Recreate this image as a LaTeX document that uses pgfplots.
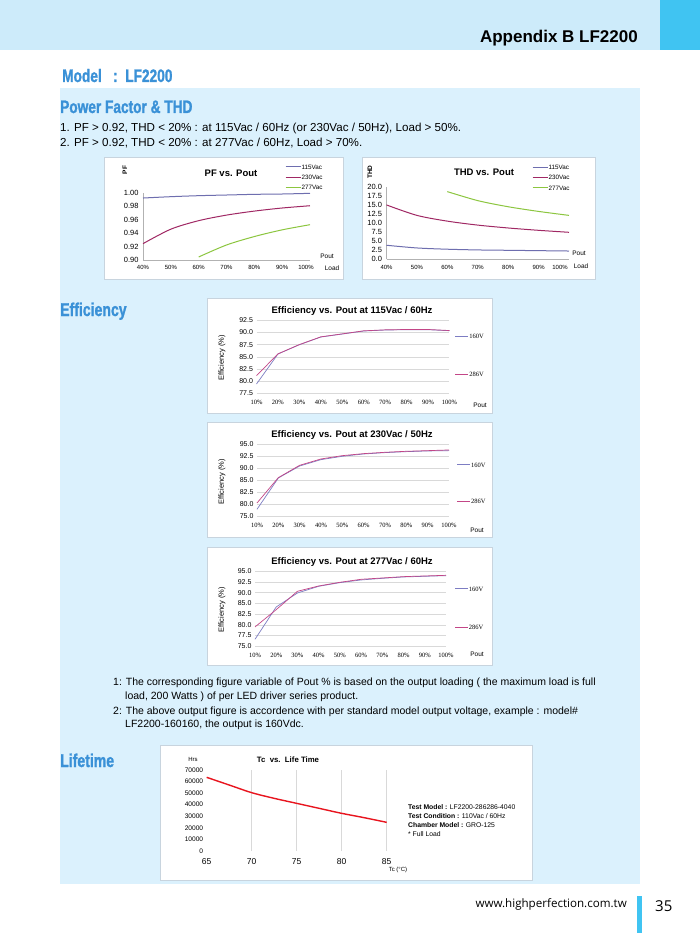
\documentclass[border=0pt]{standalone}
\usepackage{fontspec}
\setmainfont{Liberation Sans}
\newfontfamily\serifz{Liberation Serif}
\newfontfamily\condfont[FakeStretch=0.76,FakeBold=1.2]{Liberation Sans}
\newfontfamily\footfont{Open Sans}
\usepackage{pgfplots}
\pgfplotsset{compat=1.18}
\definecolor{hdrband}{RGB}{205,235,250}
\definecolor{hdrblock}{RGB}{64,196,242}
\definecolor{panel}{RGB}{219,241,253}
\definecolor{headblue}{RGB}{58,145,215}
\definecolor{cA}{RGB}{110,110,175}
\definecolor{cB}{RGB}{160,40,100}
\definecolor{cC}{RGB}{140,198,63}
\definecolor{eA}{RGB}{125,125,195}
\definecolor{eB}{RGB}{195,70,135}
\definecolor{gridc}{RGB}{217,217,217}
\definecolor{boxline}{RGB}{200,212,222}
\definecolor{lifered}{RGB}{232,20,30}

\pgfplotsset{
  chartbase/.style={scale only axis, clip=false, anchor=south west,
    /pgf/number format/assume math mode=true,
    tick style={draw=none}, legend cell align=left},
  pfthd/.style={chartbase, axis lines*=left, axis line style={draw=black!30, line width=0.4pt},
    xmin=40, xmax=100, xtick={40,50,60,70,80,90},
    xticklabels={40\%,50\%,60\%,70\%,80\%,90\%},
    extra x ticks={100}, extra x tick labels={100\%},
    xticklabel style={font=\fontsize{6}{6}\selectfont, yshift=-2pt},
    yticklabel style={font=\fontsize{7.5}{7.5}\selectfont, xshift=-1pt},
    legend style={draw=none, fill=none, font=\fontsize{6.3}{6.3}\selectfont, inner sep=0pt,
      row sep=4.5pt, nodes={inner sep=0.5pt, text height=4.6pt, text depth=0.2pt}},
    legend image code/.code={\draw[#1] (0pt,0pt) -- (15pt,0pt);}},
  eff/.style={chartbase, axis line style={draw=none},
    xmin=10, xmax=100, xtick={10,20,30,40,50,60,70,80,90,100},
    xticklabels={10\%,20\%,30\%,40\%,50\%,60\%,70\%,80\%,90\%,100\%},
    xticklabel style={font=\serifz\fontsize{6.5}{6.5}\selectfont, yshift=-3pt},
    yticklabel style={font=\fontsize{7}{7}\selectfont, /pgf/number format/.cd, fixed, fixed zerofill, precision=1},
    ymajorgrids, grid style={gridc, line width=0.5pt},
    legend style={draw=none, fill=none, font=\serifz\fontsize{6.5}{6.5}\selectfont, inner sep=0pt,
      nodes={inner sep=0.5pt, text height=4.6pt, text depth=0.2pt}},
    legend image code/.code={\draw[#1] (0pt,0pt) -- (13pt,0pt);}},
}

\begin{document}
\begin{tikzpicture}
\begin{scope}[x=1pt,y=-1pt]
\useasboundingbox (0,0) rectangle (700,933);
\fill[white] (0,0) rectangle (700,933);
\fill[hdrband] (0,0) rectangle (660,50);
\fill[hdrblock] (660,0) rectangle (700,50);
\node[anchor=base east, inner sep=0, font=\fontsize{17}{17}\selectfont\bfseries] at (638,43) {Appendix B LF2200};
\node[anchor=base west, inner sep=0, text=headblue, font=\condfont\bfseries\fontsize{18}{18}\selectfont] at (62,82) {Model\ \ \ :\ \ LF2200};
\fill[panel] (60,88) rectangle (640,884);
\node[anchor=base west, inner sep=0, text=headblue, font=\condfont\bfseries\fontsize{18}{18}\selectfont] at (60,113) {Power Factor \& THD};
\node[anchor=base west, inner sep=0, font=\fontsize{11.6}{11.6}\selectfont] at (60,132) {1. PF > 0.92, THD < 20\% : at 115Vac / 60Hz (or 230Vac / 50Hz), Load > 50\%.};
\node[anchor=base west, inner sep=0, font=\fontsize{11.6}{11.6}\selectfont] at (60,147) {2. PF > 0.92, THD < 20\% : at 277Vac / 60Hz, Load > 70\%.};
% chart boxes
\filldraw[fill=white, draw=boxline, line width=0.5pt] (104,157) rectangle (343,279);
\filldraw[fill=white, draw=boxline, line width=0.5pt] (362,157) rectangle (595,279);
\node[anchor=base west, inner sep=0, text=headblue, font=\condfont\bfseries\fontsize{18.5}{18.5}\selectfont] at (60,316) {Efficiency};
\filldraw[fill=white, draw=boxline, line width=0.5pt] (207,298) rectangle (492,413);
\filldraw[fill=white, draw=boxline, line width=0.5pt] (207,422) rectangle (492,537);
\filldraw[fill=white, draw=boxline, line width=0.5pt] (207,547) rectangle (492,665);
% notes
\begin{scope}[every node/.style={anchor=base west, inner sep=0, font=\fontsize{10.5}{10.5}\selectfont}]
\node at (113,685) {1: The corresponding figure variable of Pout \% is based on the output loading ( the maximum load is full};
\node at (125,699) {load, 200 Watts ) of per LED driver series product.};
\node at (113,714) {2: The above output figure is accordence with per standard model output voltage, example : model\#};
\node at (125,727) {LF2200-160160, the output is 160Vdc.};
\end{scope}
\node[anchor=base west, inner sep=0, text=headblue, font=\condfont\bfseries\fontsize{18.5}{18.5}\selectfont] at (60,767) {Lifetime};
\filldraw[fill=white, draw=boxline, line width=0.5pt] (160,745) rectangle (532,880);
% footer
\node[anchor=base east, inner sep=0, font=\footfont\fontsize{11.6}{11.6}\selectfont] at (627,907) {www.highperfection.com.tw};
\fill[hdrblock] (637,896) rectangle (642,933);
\node[anchor=base west, inner sep=0, font=\footfont\fontsize{15}{15}\selectfont] at (655,911) {35};
% chart texts
\node[font=\bfseries\fontsize{9.5}{9.5}\selectfont] at (231,173) {PF vs. Pout};
\node[rotate=90, font=\bfseries\fontsize{6.5}{6.5}\selectfont] at (125,170) {PF};
\node[font=\fontsize{6.5}{6.5}\selectfont] at (327,256) {Pout};
\node[font=\fontsize{6.5}{6.5}\selectfont] at (332,268) {Load};
\node[font=\bfseries\fontsize{9.5}{9.5}\selectfont] at (484,172) {THD vs. Pout};
\node[rotate=90, font=\bfseries\fontsize{6.5}{6.5}\selectfont] at (370,172) {THD};
\node[font=\fontsize{6.5}{6.5}\selectfont] at (579,253) {Pout};
\node[font=\fontsize{6.5}{6.5}\selectfont] at (581,266) {Load};
\node[font=\bfseries\fontsize{9.5}{9.5}\selectfont] at (352,311) {Efficiency vs. Pout at 115Vac / 60Hz};
\node[font=\bfseries\fontsize{9.5}{9.5}\selectfont] at (352,435) {Efficiency vs. Pout at 230Vac / 50Hz};
\node[font=\bfseries\fontsize{9.5}{9.5}\selectfont] at (352,562) {Efficiency vs. Pout at 277Vac / 60Hz};
\node[rotate=90, font=\fontsize{7.5}{7.5}\selectfont] at (222,358) {Efficiency (\%)};
\node[rotate=90, font=\fontsize{7.5}{7.5}\selectfont] at (222,482) {Efficiency (\%)};
\node[rotate=90, font=\fontsize{7.5}{7.5}\selectfont] at (222,610) {Efficiency (\%)};
\node[font=\fontsize{6.5}{6.5}\selectfont] at (480,405) {Pout};
\node[font=\fontsize{6.5}{6.5}\selectfont] at (477,530) {Pout};
\node[font=\fontsize{6.5}{6.5}\selectfont] at (477,654) {Pout};
\node[font=\fontsize{6}{6}\selectfont] at (193,759) {Hrs};
\node[font=\bfseries\fontsize{7.8}{7.8}\selectfont] at (288,760) {Tc\ \ vs.\ \ Life Time};
\node[font=\fontsize{6}{6}\selectfont] at (398,870) {Tc (°C)};
\begin{scope}[every node/.style={anchor=base west, inner sep=0, font=\fontsize{6.8}{6.8}\selectfont}]
\node at (408,809) {\textbf{Test Model :} LF2200-286286-4040};
\node at (408,818) {\textbf{Test Condition :} 110Vac / 60Hz};
\node at (408,827) {\textbf{Chamber Model :} GRO-125};
\node at (408,836) {* Full Load};
\end{scope}
\end{scope}

% PF
\begin{axis}[pfthd, at={(143pt,-260pt)}, width=167pt, height=67pt,
  extra x tick style={xticklabel style={xshift=-4pt}},
  ymin=0.90, ymax=1.00, ytick={0.90,0.92,0.94,0.96,0.98,1.00},
  yticklabel style={/pgf/number format/.cd, fixed, fixed zerofill, precision=2},
  legend style={at={(0.85,1.435)}, anchor=north west}]
\addplot[cA, line width=1pt, smooth, tension=0.5] coordinates {(40,0.9925)(50,0.9945)(60,0.996)(70,0.997)(80,0.998)(90,0.9985)(100,0.9995)};
\addlegendentry{115Vac}
\addplot[cB, line width=1pt, smooth, tension=0.5] coordinates {(40,0.9244)(50,0.946)(60,0.9587)(70,0.967)(80,0.973)(90,0.9776)(100,0.981)};
\addlegendentry{230Vac}
\addplot[cC, line width=1pt, smooth, tension=0.5] coordinates {(60,0.9045)(70,0.9224)(80,0.935)(90,0.945)(100,0.9527)};
\addlegendentry{277Vac}
\end{axis}

% THD
\begin{axis}[pfthd, at={(386.5pt,-259.3pt)}, width=182.5pt, height=72pt,
  extra x tick style={xticklabel style={xshift=-9pt}},
  ymin=0, ymax=20, ytick={0,2.5,5,7.5,10,12.5,15,17.5,20},
  yticklabel style={/pgf/number format/.cd, fixed, fixed zerofill, precision=1},
  legend style={at={(0.797,1.32)}, anchor=north west}]
\addplot[cA, line width=1pt, smooth, tension=0.5] coordinates {(40,3.9)(50,3.15)(60,2.8)(70,2.6)(80,2.5)(90,2.4)(100,2.3)};
\addlegendentry{115Vac}
\addplot[cB, line width=1pt, smooth, tension=0.5] coordinates {(40,15.1)(50,12.2)(60,10.6)(70,9.5)(80,8.7)(90,8.05)(100,7.5)};
\addlegendentry{230Vac}
\addplot[cC, line width=1pt, smooth, tension=0.5] coordinates {(60,18.8)(70,16.3)(80,14.6)(90,13.3)(100,12.2)};
\addlegendentry{277Vac}
\end{axis}

% Eff 115
\begin{axis}[eff, at={(256.5pt,-393.6pt)}, width=193pt, height=73.4pt,
  ymin=77.5, ymax=92.5, ytick={77.5,80,82.5,85,87.5,90,92.5},
  legend style={at={(1.028,0.826)}, anchor=north west, row sep=32pt}]
\addplot[eA, line width=0.7pt] coordinates {(10,79.46)(20,85.59)(30,87.49)(40,89.06)(50,89.67)(60,90.29)(70,90.49)(80,90.56)(90,90.56)(100,90.35)};
\addlegendentry{160V}
\addplot[eB, line width=0.7pt] coordinates {(10,81.16)(20,85.62)(30,87.52)(40,89.10)(50,89.71)(60,90.33)(70,90.53)(80,90.60)(90,90.60)(100,90.39)};
\addlegendentry{286V}
\end{axis}

% Eff 230
\begin{axis}[eff, at={(257pt,-516.3pt)}, width=192pt, height=72pt,
  ymin=75, ymax=95, ytick={75,78.3333,81.6667,85,88.3333,91.6667,95},
  yticklabels={75.0,80.0,82.5,85.0,90.0,92.5,95.0},
  legend style={at={(1.04,0.758)}, anchor=north west, row sep=30.6pt}]
\addplot[eA, line width=0.7pt] coordinates {(10,76.94)(20,85.65)(30,88.98)(40,90.74)(50,91.67)(60,92.31)(70,92.69)(80,92.96)(90,93.15)(100,93.24)};
\addlegendentry{160V}
\addplot[eB, line width=0.7pt] coordinates {(10,78.70)(20,85.74)(30,89.17)(40,90.93)(50,91.85)(60,92.41)(70,92.78)(80,93.06)(90,93.24)(100,93.43)};
\addlegendentry{286V}
\end{axis}

% Eff 277
\begin{axis}[eff, at={(255pt,-646.3pt)}, width=191pt, height=75pt,
  ymin=75, ymax=95, ytick={75,77.857,80.714,83.571,86.429,89.286,92.143,95},
  yticklabels={75.0,77.5,80.0,82.5,85.0,90.0,92.5,95.0},
  legend style={at={(1.045,0.808)}, anchor=north west, row sep=32.3pt}]
\addplot[eA, line width=0.7pt] coordinates {(10,76.87)(20,85.49)(30,89.22)(40,91.00)(50,91.98)(60,92.69)(70,93.13)(80,93.49)(90,93.67)(100,93.84)};
\addlegendentry{160V}
\addplot[eB, line width=0.7pt] coordinates {(10,80.16)(20,84.78)(30,89.67)(40,91.09)(50,92.07)(60,92.87)(70,93.22)(80,93.58)(90,93.76)(100,93.93)};
\addlegendentry{286V}
\end{axis}

% Lifetime
\begin{axis}[chartbase, at={(206.7pt,-851pt)}, width=180pt, height=81pt,
  axis line style={draw=none},
  xmin=65, xmax=85, xtick={70,75,80,85}, extra x ticks={65}, extra x tick style={grid=none},
  ymin=0, ymax=70000, ytick={0,10000,20000,30000,40000,50000,60000,70000},
  scaled y ticks=false,
  yticklabel style={font=\fontsize{6.6}{6.6}\selectfont, /pgf/number format/.cd, fixed, 1000 sep={}},
  xticklabel style={font=\fontsize{8.5}{8.5}\selectfont, yshift=-4pt},
  xmajorgrids, grid style={gridc, line width=0.6pt}]
\addplot[lifered, line width=1.4pt, smooth, tension=0.5] coordinates {(65,63663)(67.5,57037)(70,50411)(72.5,45514)(75,41193)(77.5,36872)(80,32551)(82.5,28807)(85,24774)};
\end{axis}
\end{tikzpicture}
\end{document}
